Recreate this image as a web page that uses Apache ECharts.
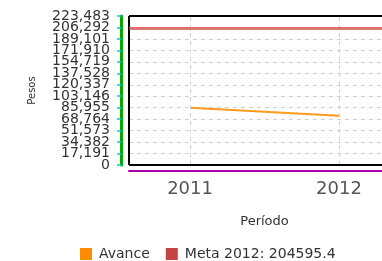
<!DOCTYPE html>
<html>
<head>
<meta charset="utf-8">
<script src="https://cdn.jsdelivr.net/npm/echarts@6/dist/echarts.min.js"></script>
<style>
    html, body { margin: 0; padding: 0; background: #ffffff; }
    #chart { width: 382px; height: 261px; }
</style>
</head>
<body>
<div id="chart"></div>
<script>
// datos del grafico
var years = [2011, 2012];
var avance = [86000, 74000];
var meta = 204595.4;
var yMax = 223483;
var yStep = 17191;

var chart = echarts.init(document.getElementById('chart'));

var avanceData = years.map(function (y, i) {
    return [y, avance[i]];
});

function yLabel(parity) {
    return function (v, idx) {
        return idx % 2 === parity ? echarts.format.addCommas(v) : '';
    };
}

var xMin = years[0] - 0.41;
var xMax = years[years.length - 1] + 0.41;
var frameStyle = { color: '#000000', width: 2, type: 'solid' };

var yBase = {
    type: 'value',
    min: 0,
    max: yMax,
    interval: yStep,
    offset: 8,
    position: 'left',
};

var option = {
    animation: false,
    textStyle: { fontFamily: 'DejaVu Sans' },
    grid: {
        left: 129,
        top: 16,
        right: -18,
        bottom: 96,
        outerBoundsMode: 'none',
        containLabel: false,
        show: false,
    },
    legend: {
        left: 75,
        top: 242,
        icon: 'rect',
        itemWidth: 12,
        itemHeight: 12,
        itemGap: 16,
        textStyle: { fontSize: 14, color: '#333333', padding: [0, 0, 0, 2] },
        data: ['Avance', 'Meta 2012: 204595.4'],
    },
    xAxis: {
        type: 'value',
        min: xMin,
        max: xMax,
        position: 'bottom',
        offset: 6,
        name: 'Período',
        nameLocation: 'middle',
        nameGap: 44,
        nameTextStyle: { fontSize: 13, color: '#333333' },
        axisLine: { show: true, onZero: false, lineStyle: { color: '#aa00aa', width: 2 } },
        axisTick: { show: false, customValues: years },
        axisLabel: {
            customValues: years,
            fontSize: 18,
            color: '#555555',
            margin: 9,
            formatter: function (v) { return String(v); },
        },
        splitLine: { show: false },
    },
    yAxis: [
        Object.assign({}, yBase, {
            name: 'Pesos',
            nameLocation: 'middle',
            nameGap: 84,
            nameTextStyle: { fontSize: 10, color: '#333333' },
            axisLine: { show: true, onZero: false, lineStyle: { color: '#0000ff', width: 1.5 } },
            axisTick: { show: true, length: 4, lineStyle: { color: '#00cccc', width: 1.5 } },
            axisLabel: {
                fontSize: 14,
                color: '#333333',
                margin: 11,
                showMinLabel: true,
                showMaxLabel: true,
                formatter: yLabel(0),
            },
            splitLine: {
                show: true,
                lineStyle: { color: '#d0d0d0', type: [4, 4], width: 1 },
            },
        }),
        Object.assign({}, yBase, {
            axisLine: { show: true, onZero: false, lineStyle: { color: '#00aa00', width: 3 } },
            axisTick: { show: false },
            axisLabel: {
                fontSize: 14,
                color: '#333333',
                margin: 11,
                showMinLabel: true,
                showMaxLabel: true,
                formatter: yLabel(1),
            },
            splitLine: { show: false },
        }),
    ],
    series: [
        {
            name: 'Avance',
            type: 'line',
            data: avanceData,
            showSymbol: false,
            color: '#ff8c00',
            lineStyle: { color: '#ff9a1a', width: 2 },
            markLine: {
                silent: true,
                symbol: 'none',
                label: { show: false },
                lineStyle: { color: '#d0d0d0', type: [4, 4], width: 1 },
                data: years.map(function (y) { return { xAxis: y }; }),
            },
        },
        {
            name: 'Meta 2012: 204595.4',
            type: 'line',
            data: [],
            clip: false,
            color: '#c44444',
            markLine: {
                silent: true,
                symbol: 'none',
                label: { show: false },
                lineStyle: { color: 'rgba(214,70,70,0.75)', width: 3, type: 'solid' },
                data: [
                    { yAxis: yMax, lineStyle: frameStyle },
                    { yAxis: 0, lineStyle: frameStyle },
                    { xAxis: xMin, lineStyle: frameStyle },
                    { yAxis: meta },
                ],
            },
        },
    ],
};

chart.setOption(option);
</script>
</body>
</html>
